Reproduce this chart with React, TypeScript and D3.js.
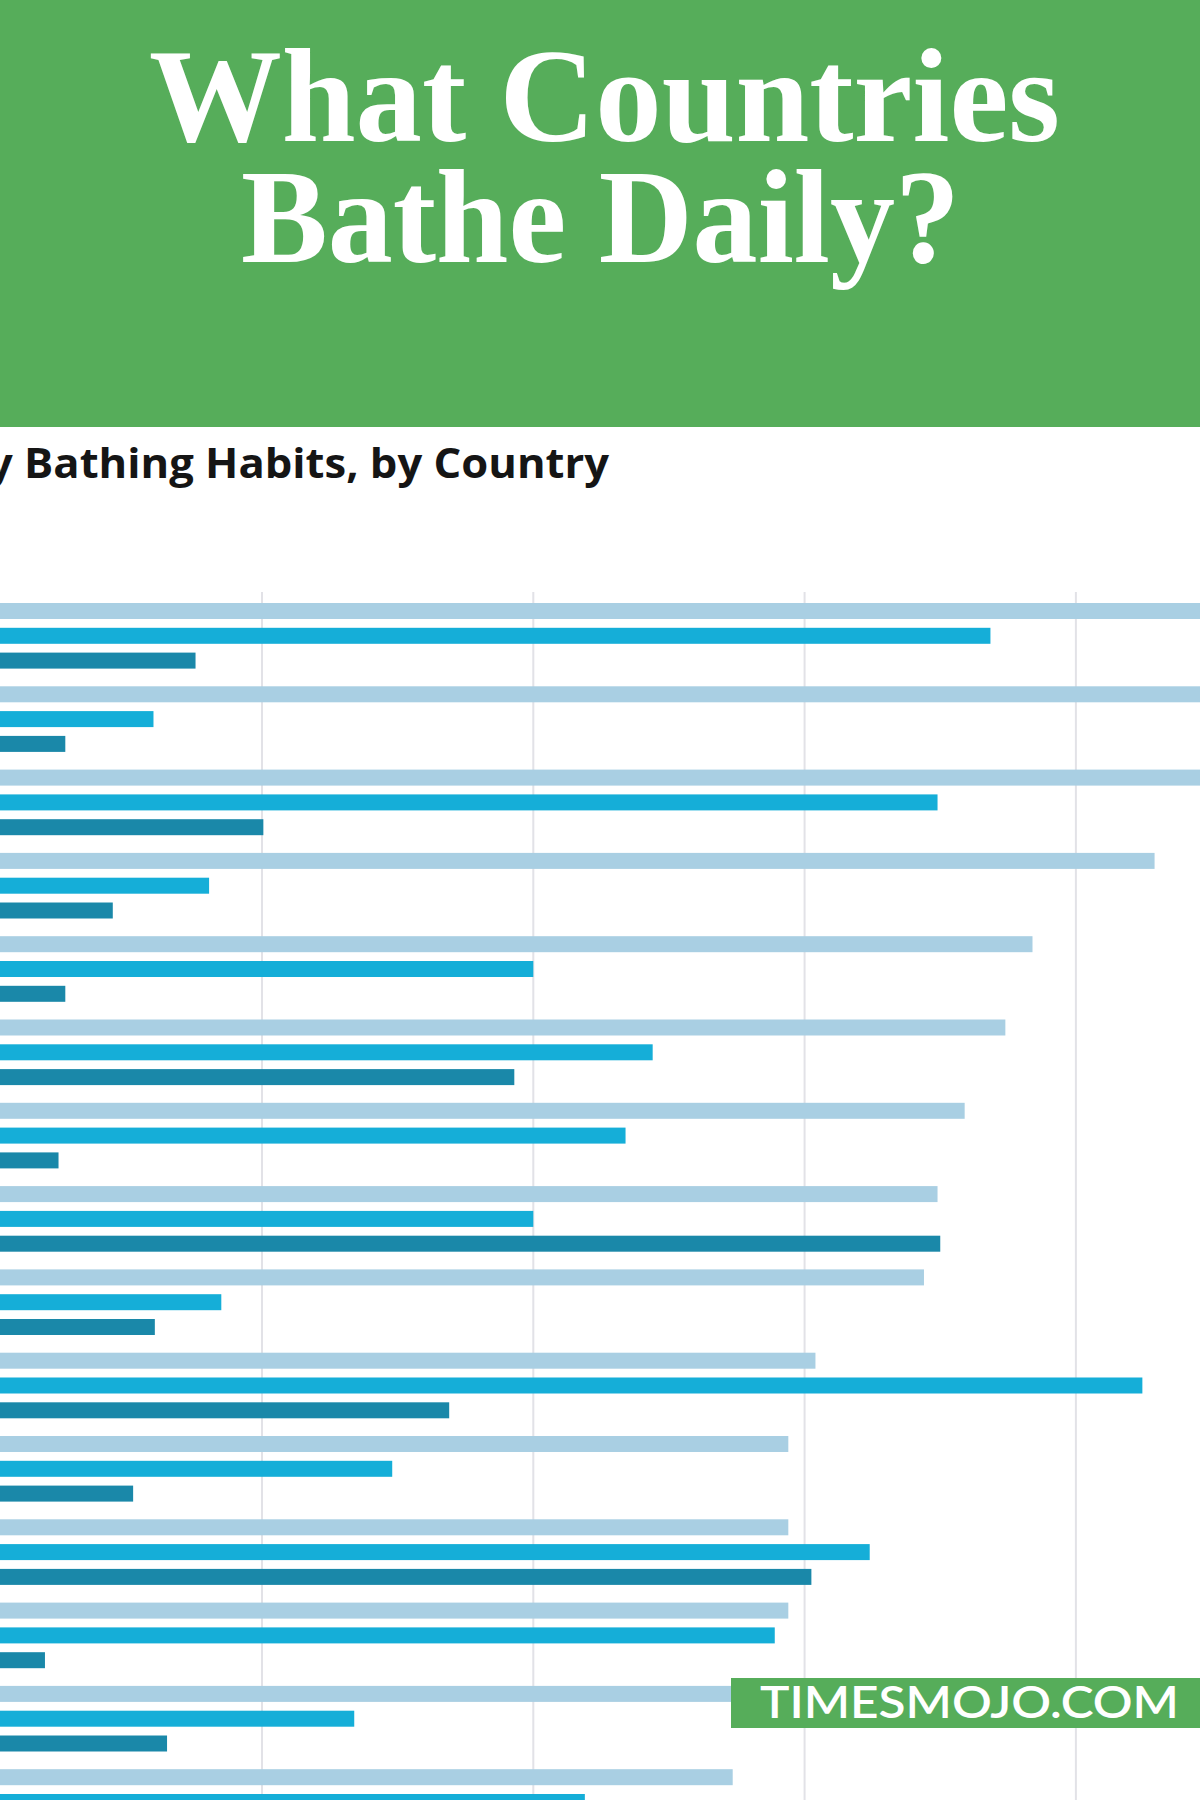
import React, { useEffect } from "react";
import * as d3 from "d3";

// ---- data (percent values; the chart is cropped on the left) ----
const groups = ["g01", "g02", "g03", "g04", "g05", "g06", "g07", "g08", "g09", "g10", "g11", "g12", "g13", "g14", "g15"];
const seriesNames = ["light", "mid", "dark"];
const lightValues = [95, 93, 92, 85.8, 76.8, 74.8, 71.8, 69.8, 68.8, 60.8, 58.8, 58.8, 58.8, 58, 54.7];
const midValues = [73.7, 12.0, 69.8, 16.1, 40.0, 48.8, 46.8, 40.0, 17.0, 84.9, 29.6, 64.8, 57.8, 26.8, 43.8];
const darkValues = [15.1, 5.5, 20.1, 9.0, 5.5, 38.6, 5.0, 70.0, 12.1, 33.8, 10.5, 60.5, 4.0, 13.0, 10];
const gridTicks = [20, 40, 60, 80, 100];
const titleLines = ["What Countries", "Bathe Daily?"];
const subtitle = "y Bathing Habits, by Country";
const watermark = "TIMESMOJO.COM";

const W = 1200;
const H = 1800;
const GREEN = "#56ad5a";
const COLORS: Record<string, string> = { light: "#a9cfe3", mid: "#15aed8", dark: "#1a88a9" };

export default function App() {
  useEffect(() => {
    document.body.style.margin = "0";
  }, []);

  const x = d3.scaleLinear().domain([0, 100]).range([-9.3, -9.3 + 5 * 271.3]);
  const y = d3
    .scaleBand<string>()
    .domain(groups)
    .range([603, 603 + groups.length * 83.3])
    .paddingInner(0)
    .paddingOuter(0);
  const inner = d3.scaleBand<string>().domain(seriesNames).range([0, 65.6]).paddingInner(0.355).paddingOuter(0);

  const valuesBySeries: Record<string, number[]> = { light: lightValues, mid: midValues, dark: darkValues };

  return (
    <svg width={W} height={H} viewBox={`0 0 ${W} ${H}`} style={{ display: "block", background: "#fff" }}>
      {/* header */}
      <rect x={0} y={0} width={W} height={427} fill={GREEN} />
      {titleLines.map((t, i) => (
        <text
          key={t}
          x={i === 0 ? 604.5 : 600.5}
          y={i === 0 ? 141 : 262}
          textAnchor="middle"
          fontFamily="'Liberation Serif', 'Times New Roman', serif"
          fontWeight={700}
          fontSize={134}
          fill="#fff"
          textLength={i === 0 ? 911 : 719}
          lengthAdjust="spacingAndGlyphs"
        >
          {t}
        </text>
      ))}

      {/* subtitle */}
      <text
        x={-12}
        y={478}
        fontFamily="'Open Sans', 'Noto Sans', sans-serif"
        fontWeight={700}
        fontSize={42}
        fill="#151515"
        textLength={621}
        lengthAdjust="spacingAndGlyphs"
      >
        {subtitle}
      </text>

      {/* gridlines */}
      {gridTicks.map((t) => (
        <line key={t} x1={x(t)} x2={x(t)} y1={592} y2={H} stroke="#e2e2e7" strokeWidth={2} />
      ))}

      {/* bars */}
      {groups.map((g, gi) => (
        <g key={g} transform={`translate(0,${y(g)})`}>
          {seriesNames.map((s) => (
            <rect
              key={s}
              x={x(0)}
              y={inner(s)}
              width={x(valuesBySeries[s][gi]) - x(0)}
              height={inner.bandwidth()}
              fill={COLORS[s]}
            />
          ))}
        </g>
      ))}

      {/* watermark */}
      <rect x={731} y={1678} width={W - 731} height={50} fill={GREEN} />
      <text
        x={760}
        y={1718}
        fontFamily="Lato, 'Noto Sans', sans-serif"
        fontWeight={600}
        fontSize={45}
        fill="#fff"
        textLength={419}
        lengthAdjust="spacingAndGlyphs"
      >
        {watermark}
      </text>
    </svg>
  );
}
